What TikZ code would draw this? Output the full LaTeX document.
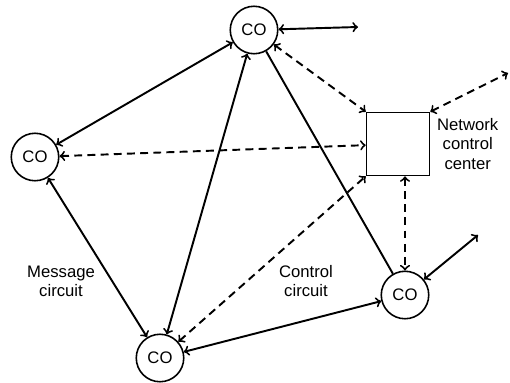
\documentclass[tikz,border=0pt]{standalone}
\usepackage{fontspec}
\setmainfont{Liberation Sans}
\usepackage{tikz}

\begin{document}
\begin{tikzpicture}[x=0.02cm, y=-0.02cm, line width=1.1pt,
        office/.style={draw, circle, minimum size=0.95cm, inner sep=0pt, line width=0.9pt, font=\fontsize{9.5}{11}\selectfont},
        ctrl/.style={dash pattern=on 4.5pt off 3pt},
        lbl/.style={align=center, font=\fontsize{9.5}{11}\selectfont}]
        \useasboundingbox (0, 0) rectangle (510, 382);
        \node[office] (tco) at (254, 30) {CO};
        \node[office] (lco) at (35, 157) {CO};
        \node[office] (bco) at (160, 358) {CO};
        \node[office] (rco) at (405, 295) {CO};
        \node[draw, minimum size=1.26cm, inner sep=0pt, line width=0.9pt] (ncc) at (398, 144) {};
        \coordinate (tout) at (358, 27);
        \coordinate (nout) at (508, 73);
        \coordinate (rout) at (478, 235);
        \draw[<->] (tco) -- (tout);
        \draw[<->] (tco) -- (lco);
        \draw[<->] (tco) -- (bco);
        \draw (tco) -- (rco);
        \draw[<->] (lco) -- (bco);
        \draw[<->] (bco) -- (rco);
        \draw[<->] (rco) -- (rout);
        \draw[<->, ctrl] (tco) -- (ncc.north west);
        \draw[<->, ctrl] (lco) -- (ncc);
        \draw[<->, ctrl] (bco) -- (ncc.south west);
        \draw[<->, ctrl] (ncc.south -| rco.north) -- (rco.north);
        \draw[<->, ctrl] (ncc.north east) -- (nout);
        \node[lbl, right=0pt] (ncclbl) at (ncc.east) {Network\\control\\center};
        \node[lbl] (msg) at (61, 281) {Message\\circuit};
        \node[lbl] (ctl) at (306, 281) {Control\\circuit};
      \end{tikzpicture}
\end{document}
